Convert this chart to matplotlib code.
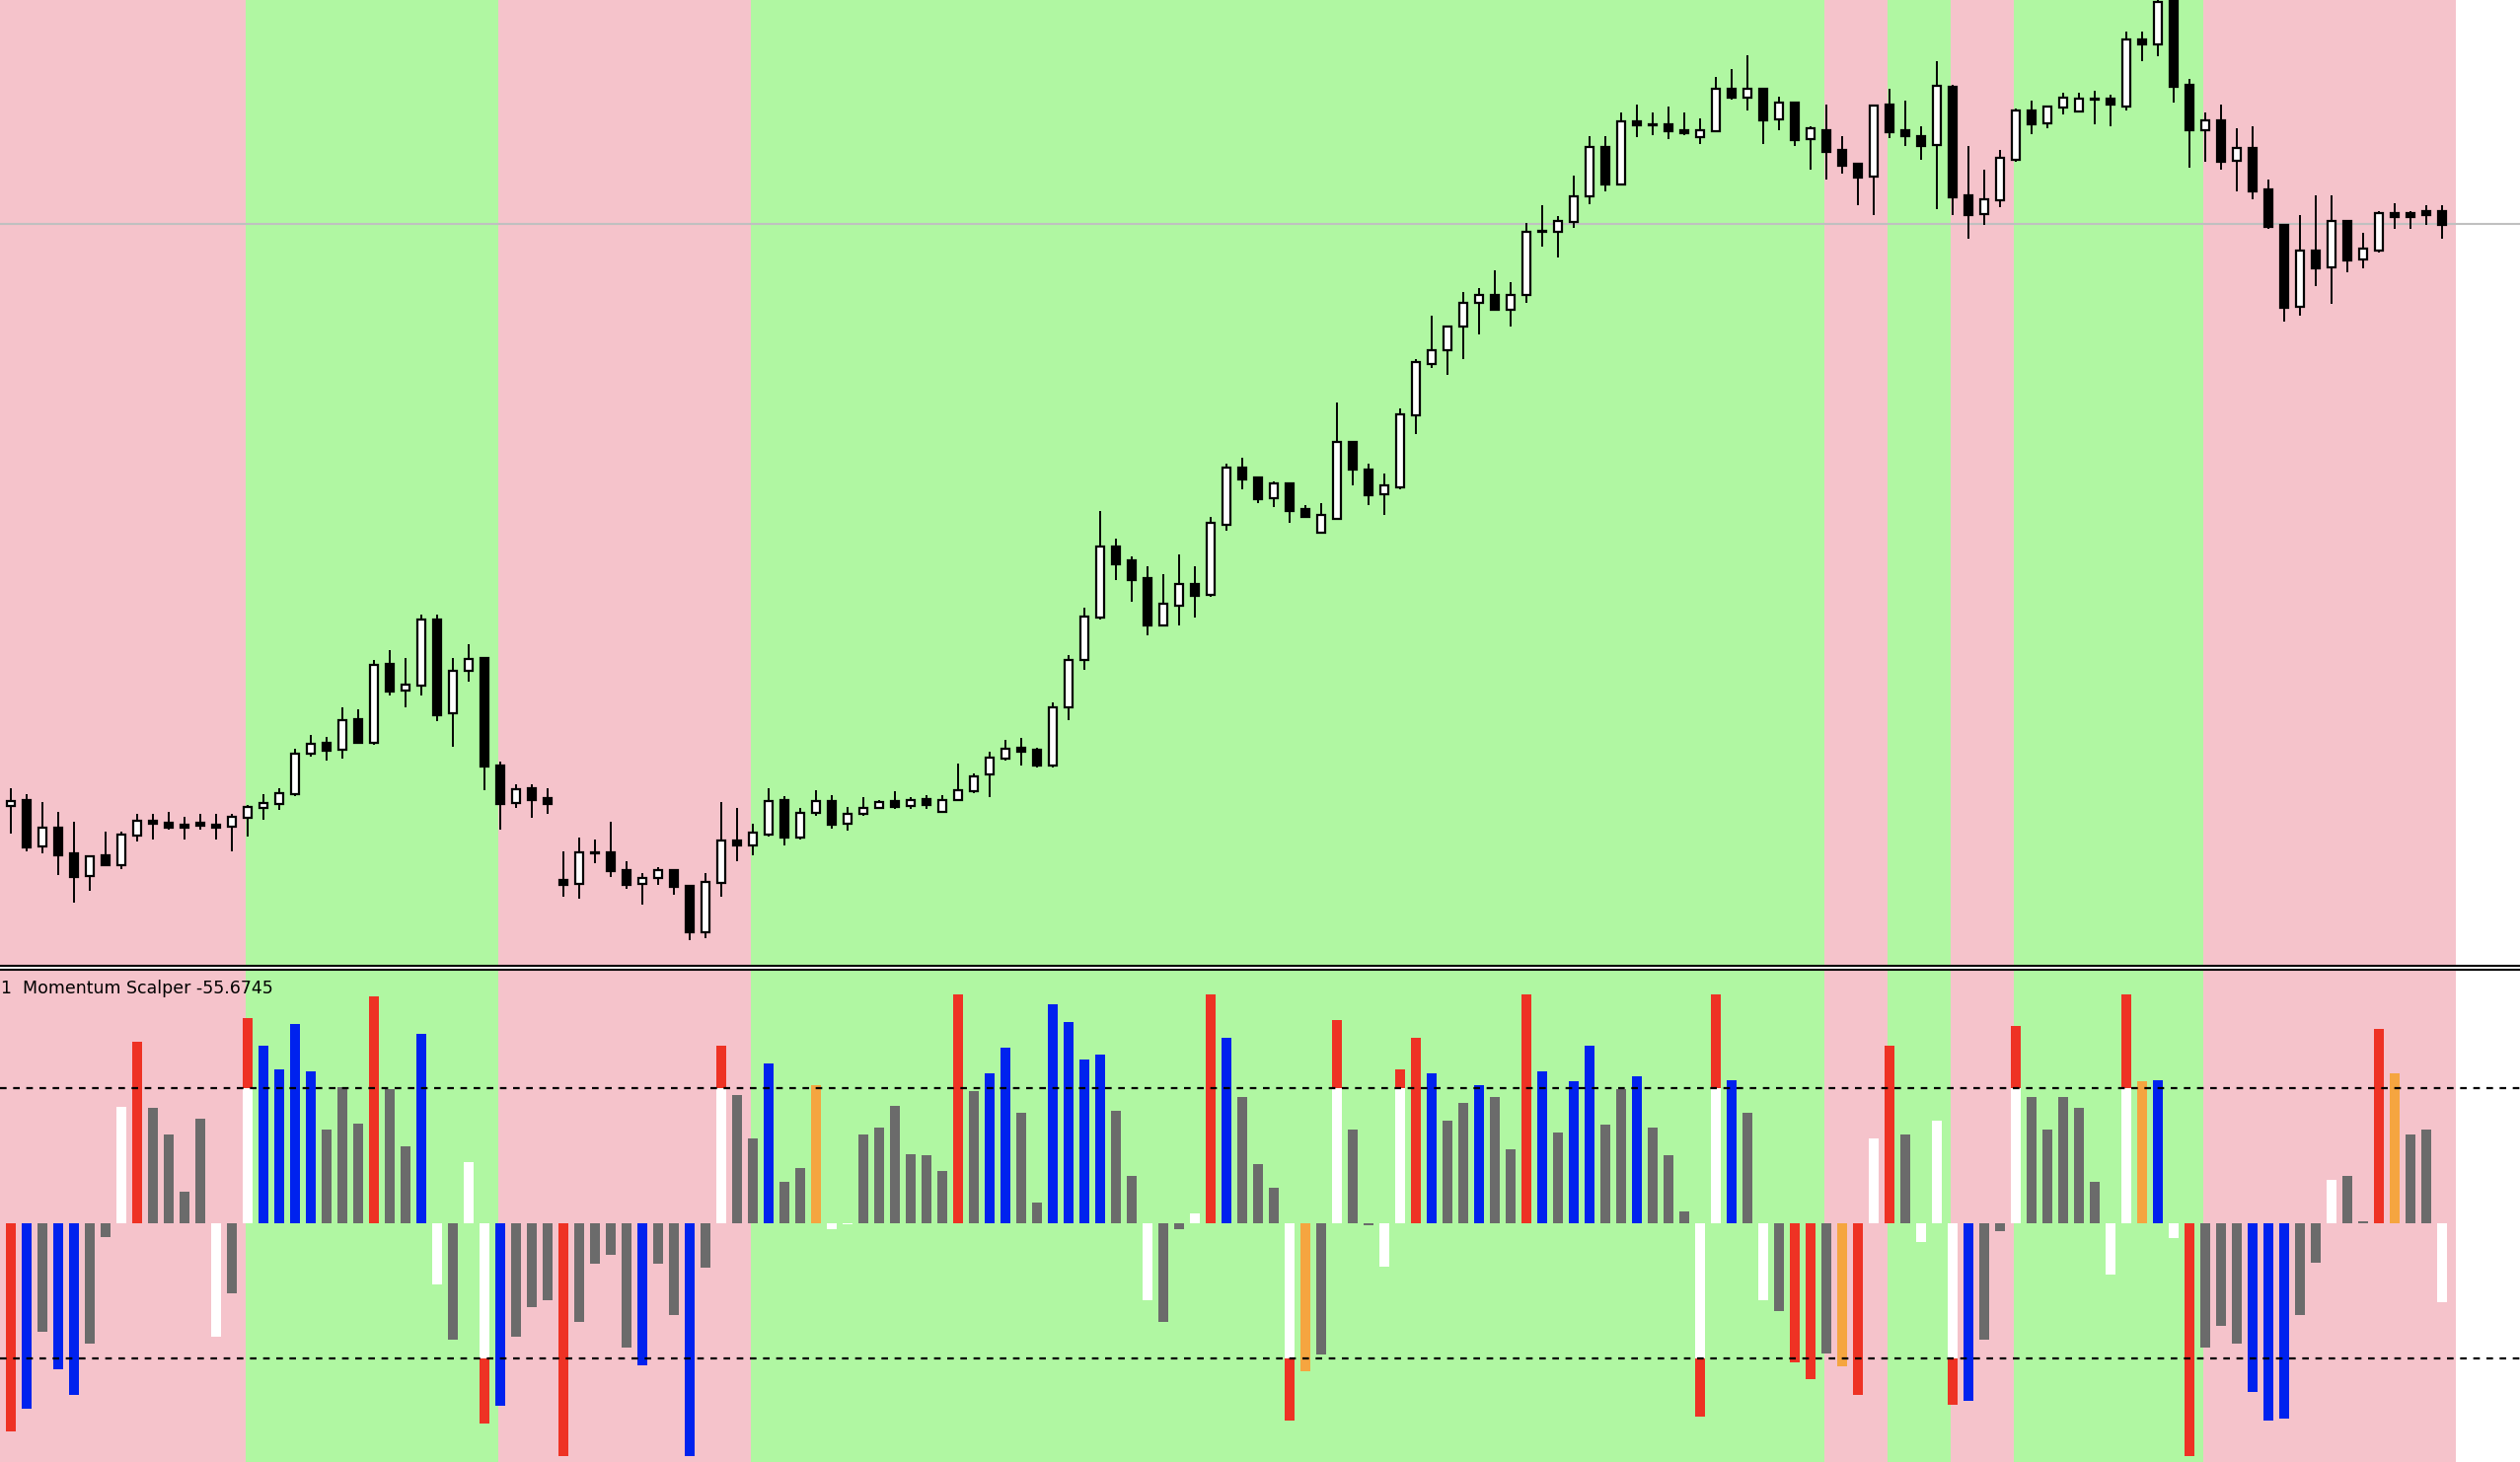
import matplotlib
matplotlib.use("Agg")
import matplotlib.pyplot as plt
import numpy as np

# ---------------- data ----------------
opens = [98.5,101.8,72.9,84.6,68.6,54.5,67.4,61.7,80.1,89.3,88.1,86.9,88.1,86.9,85.2,91.2,97.3,99.8,105.9,130.9,
         137.4,133.1,152.2,137.4,186.6,170.0,173.5,214.4,156.3,182.3,190.2,123.7,100.0,109.2,103.0,52.5,49.6,68.8,69.7,58.6,
         49.6,53.3,58.6,48.8,19.7,50.6,76.8,74.0,80.5,101.8,78.9,94.0,101.2,87.3,93.4,97.1,101.2,98.3,102.4,94.7,
         102.0,107.8,118.0,127.8,134.4,133.1,123.7,159.7,189.2,215.9,259.6,251.1,240.0,210.9,223.2,236.3,229.8,273.6,308.8,302.6,
         289.9,298.9,283.0,268.6,277.2,324.7,307.5,292.4,296.9,341.4,373.2,382.0,396.7,411.6,416.5,407.5,416.3,455.7,455.6,461.6,
         477.6,508.7,484.9,524.6,522.2,522.4,518.7,514.6,518.3,544.5,539.2,544.5,525.7,535.9,513.4,518.7,506.5,497.9,490.1,534.7,
         518.7,515.0,509.7,545.8,478.2,466.7,475.3,500.3,531.0,523.2,533.1,530.6,538.4,538.4,533.9,575.2,572.4,600.0,547.0,519.1,
         524.9,499.9,507.7,481.9,459.8,409.0,443.8,433.6,462.2,438.5,444.2,467.1,467.1,468.4,468.4]
highs = [109.2,105.5,100.6,94.4,88.3,67.0,82.2,82.2,93.2,93.2,94.4,91.8,93.2,93.2,93.2,98.9,105.5,109.2,133.7,142.3,
         141.1,159.5,158.3,189.0,195.2,190.2,217.3,217.3,190.2,198.8,190.2,126.2,111.6,111.6,109.2,69.9,78.5,77.2,88.3,63.7,
         56.4,60.0,58.6,48.8,56.4,100.6,96.9,87.1,109.2,104.3,96.9,108.0,104.9,97.5,103.7,102.0,107.3,103.7,104.9,104.9,
         124.5,118.4,131.9,139.3,140.5,134.4,162.6,192.1,221.6,281.7,264.6,253.5,247.4,242.4,254.7,247.4,278.1,311.2,314.9,302.6,
         300.2,298.9,285.4,286.7,349.3,324.7,311.2,305.1,345.6,376.4,403.4,396.9,418.2,420.6,431.7,424.3,461.2,472.2,465.7,490.6,
         515.2,515.2,530.0,534.9,530.0,533.5,529.8,526.1,551.9,556.8,565.4,544.5,539.6,535.9,521.2,534.7,515.0,497.9,534.3,544.5,
         537.2,521.2,561.7,547.0,508.9,494.2,506.5,532.2,537.2,533.5,542.1,542.1,543.3,540.8,580.1,580.1,603.0,605.0,550.7,529.8,
         534.7,520.0,521.2,488.0,459.8,465.9,478.2,478.2,462.2,454.9,468.4,473.3,468.4,472.1,472.1]
lows = [80.9,69.9,68.9,55.5,38.3,45.5,61.7,59.0,76.0,77.4,83.6,77.4,83.6,77.4,69.9,79.5,89.7,95.9,104.7,129.0,
        126.4,127.6,137.4,136.4,166.9,159.7,166.9,150.9,135.0,175.7,108.2,83.6,96.9,90.8,93.2,41.6,40.4,62.5,54.3,46.7,
        36.9,49.2,43.3,14.6,16.0,41.6,63.7,67.8,79.5,74.0,77.2,92.0,84.4,83.2,92.2,96.7,96.7,96.7,96.7,94.2,
        101.6,106.5,104.1,126.6,123.7,122.5,122.5,152.0,183.1,214.6,239.2,225.7,204.8,210.9,210.9,215.8,228.5,269.9,295.7,287.1,
        284.6,274.8,278.5,268.6,277.2,298.1,285.8,279.7,295.7,330.1,370.7,366.6,376.8,391.6,406.3,396.5,411.2,446.4,439.5,457.9,
        472.6,480.8,484.9,514.4,515.6,513.2,515.9,510.5,518.3,538.0,531.4,510.5,519.1,509.3,494.6,488.4,492.1,472.5,466.3,514.2,
        509.3,500.7,470.0,466.3,451.6,460.2,471.2,499.5,516.7,520.4,529.0,530.2,522.8,521.6,531.4,562.1,565.0,536.3,495.8,499.5,
        494.6,481.1,476.2,457.7,400.0,403.7,422.1,411.1,430.7,433.2,443.0,457.7,457.7,460.2,451.6]
closes = [101.4,72.5,84.6,67.8,54.3,67.0,61.7,80.5,89.1,87.5,84.6,84.6,86.0,84.6,91.6,97.7,100.2,106.3,130.9,137.0,
          132.7,151.8,137.4,186.1,169.6,173.9,214.4,154.6,182.5,189.8,122.9,99.6,108.8,102.2,99.8,49.2,69.7,69.7,57.8,49.2,
          53.5,58.4,48.0,19.7,51.0,76.8,73.8,81.7,101.4,78.9,94.0,101.4,86.9,93.6,97.1,100.8,97.9,102.0,99.2,102.0,
          108.2,116.8,128.2,134.0,132.3,123.7,159.7,189.2,216.3,259.6,249.0,239.2,210.9,224.0,236.3,229.3,274.4,308.8,301.8,289.1,
          298.9,282.2,278.5,279.3,324.7,307.9,292.0,297.7,341.9,374.8,382.2,396.9,411.6,416.5,407.1,416.5,455.9,456.0,462.2,478.0,
          508.7,484.9,524.6,521.8,522.0,518.3,517.1,518.7,544.5,539.2,544.5,525.3,535.9,513.0,520.0,505.6,497.0,489.7,534.3,517.9,
          515.5,509.3,546.6,477.4,466.3,475.7,501.5,531.0,522.8,533.5,539.2,538.4,538.0,535.1,575.2,572.4,599.0,546.2,519.1,524.9,
          499.5,507.7,481.1,459.0,408.6,443.8,433.2,462.2,438.1,445.0,467.1,465.1,465.1,466.3,460.2]

hist_vals = [-154,-137,-80,-108,-127,-89,-10,86,134,85,66,23,77,-84,-52,152,131,114,147,112,
             69,101,74,168,99,57,140,-45,-86,45,-148,-135,-84,-62,-57,-172,-73,-30,-23,-92,
             -105,-30,-68,-172,-33,131,95,63,118,31,41,102,-4,-1,66,71,87,51,50,39,
             169,98,111,130,82,15,162,149,121,125,83,35,-57,-73,-4,7,169,137,93,44,
             26,-146,-109,-97,150,69,-1.5,-32,114,137,111,76,89,102,93,55,169,112,67,105,
             131,73,99,109,71,50,9,-143,169,106,82,-57,-65,-103,-115,-96,-106,-127,63,131,
             66,-14,76,-134,-131,-86,-6,146,93,69,93,85,31,-38,169,105,106,-11,-172,-92,
             -76,-89,-125,-146,-144,-68,-29,32,35,1.5,144,111,66,69,-58]
hist_cols = ['r','b','g','b','b','g','g','w','r','g','g','g','g','w','g','wr','b','b','b','b',
             'g','g','g','r','g','g','b','w','g','w','wr','b','g','g','g','r','g','g','g','g',
             'b','g','g','b','g','wr','g','g','b','g','g','o','w','w','g','g','g','g','g','g',
             'r','g','b','b','g','g','b','b','b','b','g','g','w','g','g','w','r','b','g','g',
             'g','wr','o','g','wr','g','g','w','wr','r','b','g','g','b','g','g','r','b','g','b',
             'b','g','g','b','g','g','g','wr','wr','b','g','w','g','r','r','g','o','r','w','r',
             'g','w','w','wr','b','g','g','wr','g','g','g','g','g','w','wr','o','b','w','r','g',
             'g','g','b','b','b','g','g','w','g','g','r','o','g','g','w']

band_edges = [-0.7,14.9,30.9,46.9,114.9,118.9,122.9,126.9,138.9,154.9]
band_cols = ['pink','green','pink','green','pink','green','pink','green','pink']
level = 100
bid_price = 460.6
indicator_label = "1  Momentum Scalper -55.6745"

# ---------------- style ----------------
PINK = '#F5C3CB'
GREEN = '#B0F7A2'
cmap = {'r': '#EE3224', 'b': '#0022EE', 'g': '#6B6B6B', 'w': '#FFFFFF', 'o': '#F5A540'}

W, H = 2554, 1482
fig = plt.figure(figsize=(W/100, H/100), dpi=100)
fig.patch.set_facecolor('white')
xmin, xmax = -11/16, (W-11)/16

ax1 = fig.add_axes([0, 1-978/H, 1, 978/H])
ax2 = fig.add_axes([0, 0, 1, (H-983)/H])
for ax in (ax1, ax2):
    ax.set_xlim(xmin, xmax)
    ax.axis('off')
    for k in range(len(band_cols)):
        ax.axvspan(band_edges[k], band_edges[k+1], color=PINK if band_cols[k]=='pink' else GREEN, lw=0, zorder=0)

ax1.set_ylim(-0.5, 600)
ax2.set_ylim(-176.4, 187.4)

# candles
n = len(opens)
x = np.arange(n)
o = np.array(opens); h = np.array(highs); l = np.array(lows); c = np.array(closes)
ax1.axhline(bid_price, color='#C0C0C0', lw=1.5, zorder=1)
ax1.vlines(x, l, h, color='black', lw=1.4, zorder=2)
up = c >= o
bot = np.minimum(o, c)
hei = np.maximum(np.abs(c - o), 0.8)
ax1.bar(x[up], hei[up], bottom=bot[up], width=0.52, color='white', edgecolor='black', linewidth=1.6, zorder=3)
ax1.bar(x[~up], hei[~up], bottom=bot[~up], width=0.52, color='black', edgecolor='black', linewidth=1.6, zorder=3)

# histogram
v = np.array(hist_vals, dtype=float)
for i, (val, col) in enumerate(zip(v, hist_cols)):
    if col == 'wr':
        lim = level if val > 0 else -level
        ax2.bar(i, lim, width=0.62, color=cmap['w'], lw=0, zorder=2)
        ax2.bar(i, val - lim, bottom=lim, width=0.62, color=cmap['r'], lw=0, zorder=2)
    else:
        ax2.bar(i, val, width=0.62, color=cmap[col], lw=0, zorder=2)
ax2.axhline(level, color='black', ls=(0, (3, 3)), lw=1.6, zorder=3)
ax2.axhline(-level, color='black', ls=(0, (3, 3)), lw=1.6, zorder=3)
ax2.text(0.0005, 1 - 10/499, indicator_label, transform=ax2.transAxes, ha='left', va='top',
         fontsize=12.5, family='DejaVu Sans Condensed' if False else 'DejaVu Sans', color='black', zorder=4)

# separator lines
fig.add_artist(plt.Line2D([0, 1], [1-979/H, 1-979/H], color='black', lw=1.5))
fig.add_artist(plt.Line2D([0, 1], [1-982.5/H, 1-982.5/H], color='black', lw=1.5))

fig.savefig('out.png', dpi=100, facecolor='white')
